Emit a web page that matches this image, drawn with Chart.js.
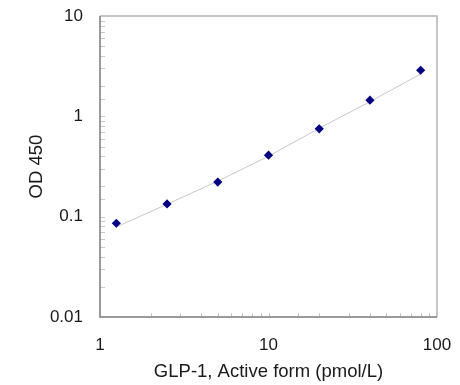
<!DOCTYPE html>
<html>
<head>
<meta charset="utf-8">
<script src="https://cdn.jsdelivr.net/npm/chart.js@4/dist/chart.umd.min.js"></script>
<style>
  body { margin: 0; background: #fff; }
  #wrap { width: 460px; height: 385px; }
</style>
</head>
<body>
<div id="wrap"><canvas id="odChart" width="460" height="385"></canvas></div>
<script>
// concentration (pmol/L) et OD 450 mesurees
const concentrations = [1.25, 2.5, 5, 10, 20, 40, 80];
const odValues = [0.086, 0.134, 0.221, 0.41, 0.75, 1.45, 2.88];
// courbe de calibration
const fitValues = [0.079, 0.133, 0.226, 0.40, 0.76, 1.40, 2.64];
const xTickLabels = [1, 10, 100];
const yTickLabels = [0.01, 0.1, 1, 10];

// petits traits de graduation vers l'interieur
const innerTicks = {
    id: 'innerTicks',
    afterDraw(chart) {
        const ctx = chart.ctx;
        const area = chart.chartArea;
        const xs = chart.scales.x;
        const ys = chart.scales.y;
        ctx.save();
        ctx.strokeStyle = '#c8c8c8';
        ctx.lineWidth = 1;
        ctx.beginPath();
        xs.ticks.forEach(t => {
            const px = Math.round(xs.getPixelForValue(t.value)) + 0.5;
            if (px <= area.left + 1 || px >= area.right - 1) return;
            ctx.moveTo(px, area.bottom);
            ctx.lineTo(px, area.bottom - 4);
        });
        ys.ticks.forEach(t => {
            const py = Math.round(ys.getPixelForValue(t.value)) + 0.5;
            if (py <= area.top + 1 || py >= area.bottom - 1) return;
            ctx.moveTo(area.left, py);
            ctx.lineTo(area.left + 5, py);
        });
        ctx.stroke();
        // cadre
        ctx.strokeStyle = '#b4b4b4';
        ctx.lineWidth = 1.5;
        ctx.beginPath();
        ctx.moveTo(area.left, area.top);
        ctx.lineTo(area.right, area.top);
        ctx.lineTo(area.right, area.bottom);
        ctx.stroke();
        ctx.strokeStyle = '#7a7a7a';
        ctx.beginPath();
        ctx.moveTo(area.left, area.top);
        ctx.lineTo(area.left, area.bottom);
        ctx.lineTo(area.right, area.bottom);
        ctx.stroke();
        ctx.restore();
    }
};

const odCanvas = document.getElementById('odChart');

const odChart = new Chart(odCanvas, {
    type: 'scatter',
    data: {
        datasets: [{
            label: 'Fit',
            data: concentrations.map((c, i) => ({ x: c, y: fitValues[i] })),
            showLine: true,
            borderColor: '#c8c8c8',
            borderWidth: 1,
            pointRadius: 0,
            order: 2
        }, {
            label: 'OD 450',
            data: concentrations.map((c, i) => ({ x: c, y: odValues[i] })),
            pointStyle: 'rectRot',
            pointRadius: 4.6,
            backgroundColor: '#000080',
            borderColor: '#000080',
            borderWidth: 0,
            order: 1
        }]
    },
    options: {
        responsive: false,
        animation: false,
        layout: { padding: { left: 26, top: 16, right: 23, bottom: 0 } },
        plugins: {
            legend: { display: false },
            tooltip: { enabled: false }
        },
        scales: {
            x: {
                type: 'logarithmic',
                min: 1,
                max: 100,
                grid: { display: false, drawTicks: false },
                border: { display: false },
                ticks: {
                    autoSkip: false,
                    maxRotation: 0,
                    padding: 18,
                    color: '#1a1a1a',
                    font: { family: 'Liberation Sans', size: 17 },
                    callback: v => xTickLabels.includes(v) ? String(v) : ''
                },
                title: {
                    display: true,
                    text: 'GLP-1, Active form (pmol/L)',
                    color: '#1a1a1a',
                    font: { family: 'Liberation Sans', size: 18.5 },
                    padding: { top: 0, bottom: 2 }
                },
                afterFit: s => {
                    s.height = 68;
                    s.paddingLeft = 0;
                    s.paddingRight = 0;
                }
            },
            y: {
                type: 'logarithmic',
                min: 0.01,
                max: 10,
                grid: { display: false, drawTicks: false },
                border: { display: false },
                ticks: {
                    autoSkip: false,
                    padding: 17,
                    color: '#1a1a1a',
                    font: { family: 'Liberation Sans', size: 17 },
                    callback: v => yTickLabels.includes(v) ? String(v) : ''
                },
                title: {
                    display: true,
                    text: 'OD 450',
                    color: '#1a1a1a',
                    font: { family: 'Liberation Sans', size: 18.5 },
                    padding: { top: 0, bottom: 8 }
                },
                afterFit: s => {
                    s.width = 74;
                    s.paddingTop = 0;
                    s.paddingBottom = 0;
                }
            }
        }
    },
    plugins: [innerTicks]
});
</script>
</body>
</html>
